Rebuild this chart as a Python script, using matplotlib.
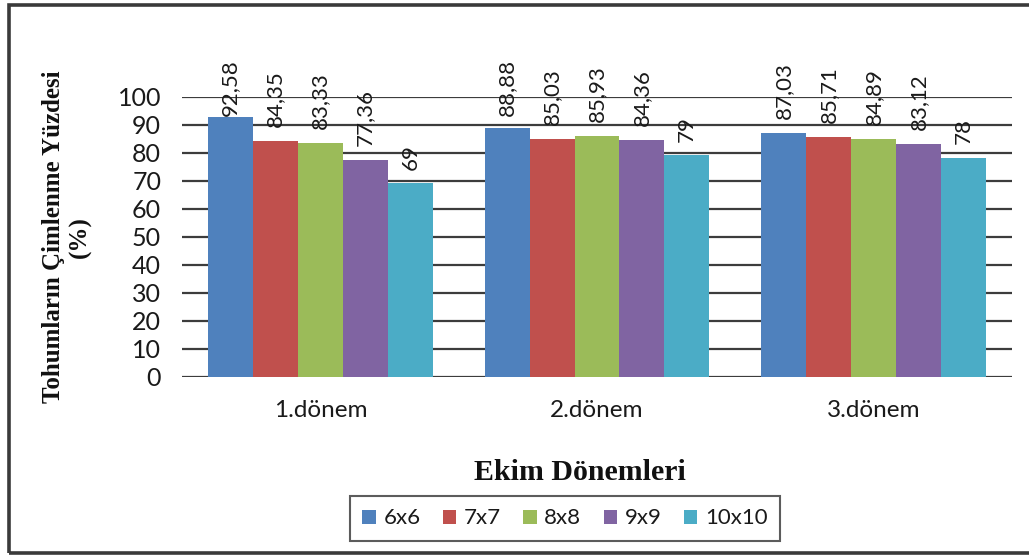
import matplotlib
matplotlib.use("Agg")
import matplotlib.pyplot as plt
from matplotlib.patches import Rectangle, Patch
import numpy as np

# Germination percentages per sowing period and plant spacing
periods = ["1.dönem", "2.dönem", "3.dönem"]
spacings = ["6x6", "7x7", "8x8", "9x9", "10x10"]
s6x6 = [92.58, 88.88, 87.03]
s7x7 = [84.35, 85.03, 85.71]
s8x8 = [83.33, 85.93, 84.89]
s9x9 = [77.36, 84.36, 83.12]
s10x10 = [69, 79, 78]
series = [s6x6, s7x7, s8x8, s9x9, s10x10]
colors = ["#4F81BD", "#C0504D", "#9BBB59", "#8064A2", "#4BACC6"]
yticks = list(range(0, 101, 10))

W, H = 1029, 557
fig = plt.figure(figsize=(W / 100, H / 100), dpi=100)
fig.patch.set_facecolor("white")

# outer chart frame (right edge runs off the page)
fig.add_artist(Rectangle((9 / W, 1 - 553 / H), 1.05, (553 - 5) / H,
                         transform=fig.transFigure, fill=False,
                         lw=2.6, ec="#3a3a3a", clip_on=False))

ax = fig.add_axes([182 / W, 1 - 376.7 / H, (1012 - 182) / W, (376.7 - 96.7) / H])
sans = ["Lato", "DejaVu Sans"]
serif = ["Liberation Serif", "DejaVu Serif"]

x = np.arange(len(periods))
bw = 0.1625
bars = []
for i, (vals, c) in enumerate(zip(series, colors)):
    b = ax.bar(x + (i - 2) * bw, vals, width=bw, color=c, zorder=2,
               edgecolor="none", label=spacings[i])
    bars.append(b)

ax.set_xlim(-0.5, 2.5)
ax.set_ylim(0, 100)
ax.set_yticks(yticks)
ax.set_yticklabels([str(t) for t in yticks], family=sans, fontsize=18, color="#1a1a1a")
ax.set_xticks(x)
ax.set_xticklabels(periods, family=sans, fontsize=17.5, color="#1a1a1a")
ax.tick_params(axis="y", length=0, pad=15)
ax.tick_params(axis="x", length=0, pad=17)
for s in ax.spines.values():
    s.set_visible(False)
ax.set_axisbelow(True)
ax.yaxis.grid(True, color="#3c3c3c", lw=1.6, zorder=0)

# value labels above bars, kept inside the chart area
fig.canvas.draw()
renderer = fig.canvas.get_renderer()
top_limit_px = H - 59  # display coords measured from bottom
for b, vals in zip(bars, series):
    for rect, v in zip(b, vals):
        txt = ("%g" % v).replace(".", ",")
        cx = rect.get_x() + rect.get_width() / 2
        t = ax.text(cx, v + 5, txt, rotation=90, ha="center", va="bottom",
                    family=sans, fontsize=16, color="#1a1a1a", clip_on=False,
                    zorder=3)
        bb = t.get_window_extent(renderer)
        if bb.y1 > top_limit_px:
            ytop = ax.transData.inverted().transform((0, top_limit_px))[1]
            t.set_y(ytop)
            t.set_va("top")

ax.set_ylabel("Tohumların Çimlenme Yüzdesi\n(%)", family=serif, fontsize=18,
              fontweight="bold", color="#111111")
ax.yaxis.set_label_coords(-(182 - 92) / (1012 - 182), 0.5)

fig.text(580 / W, 1 - 472 / H, "Ekim Dönemleri", family=serif, fontsize=21.5,
         fontweight="bold", ha="center", va="center", color="#111111")

handles = [Patch(facecolor=c, edgecolor="none", label=l) for c, l in zip(colors, spacings)]
leg = fig.legend(handles=handles, loc="center", bbox_to_anchor=(565 / W, 1 - 518.5 / H),
                 ncol=5, frameon=True, fancybox=False, prop={"family": sans, "size": 16},
                 handlelength=0.6, handleheight=0.6, handletextpad=0.35,
                 columnspacing=1.0, borderpad=0.55, edgecolor="#333333")
leg.get_frame().set_linewidth(1.5)
for t in leg.get_texts():
    t.set_color("#1a1a1a")

fig.savefig("out.png", dpi=100)
